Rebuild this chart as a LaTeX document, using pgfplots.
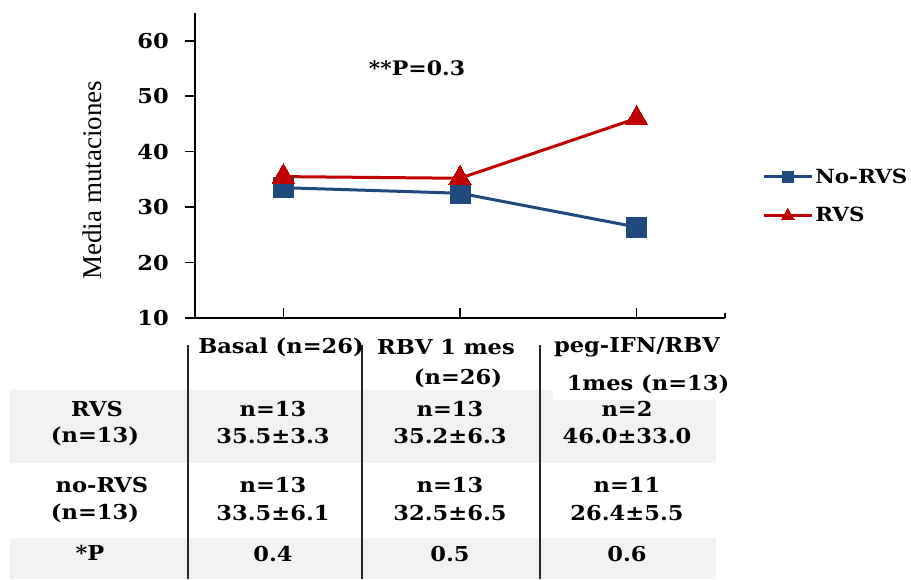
\documentclass[border=0pt]{standalone}
\usepackage{fontspec}
\usepackage{pgfplots}
\pgfplotsset{compat=1.18}
\setmainfont{Liberation Serif}
\newfontfamily\bfnt{DejaVu Serif}[FakeStretch=1.1]
\definecolor{serBlue}{HTML}{1F497D}
\definecolor{serRed}{HTML}{C00000}
\definecolor{band}{HTML}{F2F2F2}
\newcommand{\bt}{\bfnt\bfseries}

\begin{document}
\begin{tikzpicture}
\path[use as bounding box] (0pt,0pt) rectangle (911pt,-579pt);

% table below the chart
\begin{scope}[x=1pt,y=-1pt]
\fill[band] (10,390) rectangle (716,463);
\fill[band] (10,538) rectangle (716,579);
\fill[white] (553,385) rectangle (726,400);
\draw[line width=2pt,black!85] (188,345) -- (188,579);
\draw[line width=2pt,black!85] (362,345) -- (362,579);
\draw[line width=2pt,black!85] (540,345) -- (540,579);
\tikzset{tt/.style={font=\bt\fontsize{20.5}{23}\selectfont,anchor=center,inner sep=0pt}}
% header
\node[tt] at (281,347) {Basal (n=26)};
\node[tt] at (446,347) {RBV 1 mes};
\node[tt] at (458,378) {(n=26)};
\node[tt] at (637,347) {peg-IFN/RBV};
\node[tt] at (648,384) {1mes (n=13)};
% rows
\node[tt] at (97,409) {RVS};
\node[tt] at (95,436) {(n=13)};
\node[tt] at (102,485) {no-RVS};
\node[tt] at (95,513) {(n=13)};
\node[tt] at (90,553) {*P};
\node[tt] at (273,409) {n=13};
\node[tt] at (273,436) {35.5±3.3};
\node[tt] at (450,409) {n=13};
\node[tt] at (450,436) {35.2±6.3};
\node[tt] at (627,409) {n=2};
\node[tt] at (627,436) {46.0±33.0};
\node[tt] at (273,485) {n=13};
\node[tt] at (273,513) {33.5±6.1};
\node[tt] at (450,485) {n=13};
\node[tt] at (450,513) {32.5±6.5};
\node[tt] at (627,485) {n=11};
\node[tt] at (627,513) {26.4±5.5};
\node[tt] at (273,554) {0.4};
\node[tt] at (450,554) {0.5};
\node[tt] at (627,554) {0.6};
\node[font=\bt\fontsize{20}{22}\selectfont,anchor=center,inner sep=0pt] at (417,68) {**P=0.3};
\end{scope}

\begin{axis}[
  at={(195pt,-318pt)}, anchor=south west,
  scale only axis,
  width=530pt, height=305pt,
  xmin=-0.5, xmax=2.5,
  ymin=10, ymax=65,
  axis x line*=bottom, axis y line*=left,
  axis line style={-,line width=2pt,black},
  xtick={0,1,2,2.5}, xticklabels={},
  ytick={10,20,30,40,50,60},
  xtick align=inside, ytick align=outside,
  major tick length=10pt,
  tick style={line width=1.6pt,black},
  xtick style={shorten >=5pt},
  /pgf/number format/assume math mode=true,
  yticklabel style={font=\bt\fontsize{20.5}{22}\selectfont,anchor=east,inner sep=0pt,xshift=-16pt},
  ylabel={Media mutaciones},
  ylabel style={font=\fontsize{27}{29}\selectfont,at={(axis description cs:-0.193,0.452)},anchor=center},
  clip=false,
  legend style={draw=none,fill=none,at={(1.07,0.40)},anchor=west,
    font=\bt\fontsize{19.5}{23}\selectfont,row sep=19pt,inner sep=0pt},
  legend cell align=left,
  legend image code/.code={\draw[mark repeat=2,mark phase=2,every mark/.append style={scale=0.55}]
    plot coordinates {(0pt,0pt) (24pt,0pt) (48pt,0pt)};},
]
\addplot[serBlue,line width=3pt,mark=square*,mark size=10pt,mark options={fill=serBlue,draw=serBlue,line width=0pt}]
  coordinates {(0,33.5) (1,32.5) (2,26.4)};
\addlegendentry{No-RVS}
\addplot[serRed,line width=3pt,mark=triangle*,mark size=13pt,mark options={fill=serRed,draw=serRed,line width=0pt}]
  coordinates {(0,35.5) (1,35.2) (2,46.0)};
\addlegendentry{RVS}
\end{axis}
\end{tikzpicture}
\end{document}
